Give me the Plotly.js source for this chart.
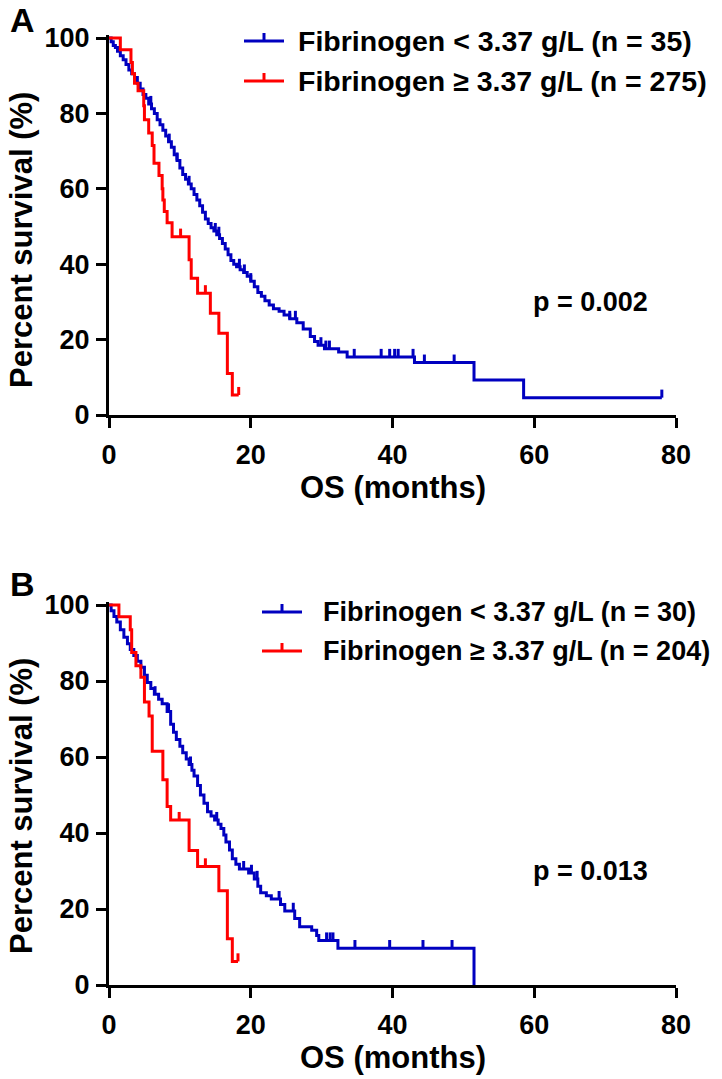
<!DOCTYPE html>
<html>
<head>
<meta charset="utf-8">
<script src="https://cdn.plot.ly/plotly-3.0.1.min.js"></script>
<style>html,body{margin:0;padding:0;background:#fff;}#chart{width:722px;height:1079px;}</style>
</head>
<body>
<div id="chart"></div>
<script>
// ---------- data ----------
const xTicks = [0, 20, 40, 60, 80];
const yTicks = [0, 20, 40, 60, 80, 100];

// Panel A, Fibrinogen < 3.37 g/L (blue)
const aBlueT = [0.3,0.6,0.9,1.2,1.6,2.0,2.4,2.8,3.2,3.6,4.0,4.4,4.8,5.2,5.6,6.0,6.4,6.8,7.2,7.6,8.0,8.4,8.8,9.2,9.6,10.0,10.4,10.8,11.2,11.6,12.0,12.4,12.8,13.2,13.6,14.0,14.4,14.8,15.2,15.6,16.0,16.4,16.8,17.2,17.6,18.0,18.5,19.0,19.5,20.0,20.5,21.0,21.5,22.0,22.6,23.2,24.0,24.7,25.5,26.5,27.4,28.4,29.0,29.5,30.4,32.4,33.6,43.1,51.5,58.5];
const aBlueS = [99,98,97.5,96.5,95.3,94.2,93.0,91.5,90.5,89.5,88,86.5,85,84,82.5,81.2,80,78.3,77,75.5,74,72.5,71,69,67.5,65.5,63.8,62.5,61.3,60,58.5,57,55.5,53.8,52,50.8,49.7,48.8,47.8,46.8,45.5,44,42.5,41,40,39.3,38.5,37.8,36.8,35.5,34,32.5,31.5,30.3,29.2,28.2,27.5,26.5,25.5,24.5,22.8,20.8,19.5,18.5,17.6,16.7,15.4,13.9,9.3,4.6];
const aBlueCens = [5.9,8.5,9.6,11.3,15.0,15.5,18.4,19.1,20.0,25.5,26.3,29.9,30.6,31.1,34.6,38.4,39.6,40.3,40.8,42.9,44.5,48.7,78.0];
const aBlueEnd = 78.0;
// Panel A, Fibrinogen >= 3.37 g/L (red)
const aRedT = [1.6,3.1,3.3,3.6,4.1,4.9,5.0,5.6,6.1,6.35,7.05,7.5,7.6,7.8,8.2,8.9,11.3,11.6,12.5,14.3,15.5,16.7,17.4];
const aRedS = [96.9,93.5,90.5,88,86,82,78.3,74.8,71.5,66.8,63.5,60,57,54,51,47.3,41.2,36.3,32.3,27,21.7,11,5.3];
const aRedCens = [10.1,13.6,18.3];
const aRedEnd = 18.3;

// Panel B, Fibrinogen < 3.37 g/L (blue)
const bBlueT = [0.3,0.7,1.1,1.6,2.1,2.6,3.0,3.5,4.0,4.5,5.0,5.4,5.9,6.4,7.0,7.5,8.2,8.7,9.1,9.5,10.0,10.4,10.9,11.3,11.7,12.0,12.5,12.9,13.4,13.9,14.4,14.9,15.4,15.8,16.2,16.5,17.0,17.4,17.9,18.4,19.7,20.5,21.0,21.4,22.2,22.9,24.2,24.8,26.2,26.9,28.6,29.3,29.6,32.3,51.5];
const bBlueS = [98.5,97,95.5,93.5,91.5,89.8,88.3,86.7,85.2,83.6,81.5,79.6,78,76.5,75.2,74,72,68.6,66.5,64.6,62.8,61.1,59.5,58,56.5,55,52.5,50,47.8,45.6,44.5,43.4,42.3,41.2,39.5,37.6,35.5,33.2,31.8,30.5,29.5,27.9,26,24.3,23.5,22.6,21.2,19.5,17.5,15.3,14.4,13.0,11.7,9.7,0];
const bBlueCens = [6.5,8.4,11.5,15.2,19.0,20.1,20.9,24.0,26.0,30.7,31.2,31.6,34.7,39.6,44.3,48.4];
const bBlueEnd = 51.5;
// Panel B, Fibrinogen >= 3.37 g/L (red)
const bRedT = [1.4,3.0,3.2,3.8,4.5,5.0,5.65,6.1,7.6,8.2,8.7,11.3,12.5,15.5,16.7,17.4];
const bRedS = [96.9,93.5,87.5,84,81,74.5,70.8,61.5,54,47,43.4,35.4,31.2,24.8,12.2,6.2];
const bRedCens = [9.9,13.6,18.2];
const bRedEnd = 18.2;

const legendA = ['Fibrinogen < 3.37 g/L (n = 35)', 'Fibrinogen \u2265 3.37 g/L (n = 275)'];
const legendB = ['Fibrinogen < 3.37 g/L (n = 30)', 'Fibrinogen \u2265 3.37 g/L (n = 204)'];
const pA = 'p = 0.002';
const pB = 'p = 0.013';
const xTitle = 'OS (months)';
const yTitle = 'Percent survival (%)';

// ---------- style ----------
const BLUE = '#0000c0';
const RED = '#ff0000';
const W = 722, H = 1079;
const FONT = 'Liberation Sans, Arial, Helvetica, sans-serif';
const LW = 3;
// plot-area pixel geometry
const X0 = 109, X1 = 676;
const A_TOP = 38, A_BOT = 415;
const B_TOP = 605, B_BOT = 985;
const YMAX = 100.8;  // small headroom so the 100% line is not clipped

function px(x) { return x / W; }
function py(y) { return 1 - y / H; }

function kmTrace(t, s, end, color, xa, ya) {
  return {
    type: 'scatter', mode: 'lines',
    x: [0].concat(t, [end]),
    y: [100].concat(s, [s[s.length - 1]]),
    line: { shape: 'hv', color: color, width: LW },
    xaxis: xa, yaxis: ya, hoverinfo: 'skip', showlegend: false
  };
}
function survAt(t, s, c) {
  let v = 100;
  for (let i = 0; i < t.length; i++) { if (t[i] <= c) v = s[i]; }
  return v;
}
function censTrace(cens, t, s, color, xa, ya, tickLen) {
  const x = [], y = [];
  cens.forEach(function (c) {
    const v = survAt(t, s, c);
    x.push(c, c, null); y.push(v, v + tickLen, null);
  });
  return {
    type: 'scatter', mode: 'lines', x: x, y: y,
    line: { color: color, width: LW },
    xaxis: xa, yaxis: ya, hoverinfo: 'skip', showlegend: false
  };
}
const tickLenData = 8 / ((A_BOT - A_TOP) / YMAX);

const traces = [
  kmTrace(aBlueT, aBlueS, aBlueEnd, BLUE, 'x', 'y'),
  censTrace(aBlueCens, aBlueT, aBlueS, BLUE, 'x', 'y', tickLenData),
  kmTrace(aRedT, aRedS, aRedEnd, RED, 'x', 'y'),
  censTrace(aRedCens, aRedT, aRedS, RED, 'x', 'y', tickLenData),
  kmTrace(bBlueT, bBlueS, bBlueEnd, BLUE, 'x2', 'y2'),
  censTrace(bBlueCens, bBlueT, bBlueS, BLUE, 'x2', 'y2', tickLenData),
  kmTrace(bRedT, bRedS, bRedEnd, RED, 'x2', 'y2'),
  censTrace(bRedCens, bRedT, bRedS, RED, 'x2', 'y2', tickLenData)
];

const tickFont = { family: FONT, size: 27, color: '#000', weight: 700 };
function xAxis(anchor) {
  return {
    domain: [px(X0), px(X1)], range: [0, 80], anchor: anchor,
    tickmode: 'array', tickvals: xTicks, ticktext: xTicks.map(String),
    ticks: 'outside', ticklen: 10, tickwidth: LW, tickcolor: '#000',
    showline: true, linewidth: LW, linecolor: '#000',
    showgrid: false, zeroline: false, tickfont: tickFont, ticklabelstandoff: 4,
    fixedrange: true
  };
}
function yAxis(anchor, top, bot) {
  const h = bot - top;
  const topPx = bot - h * YMAX / 100;
  return {
    domain: [py(bot), py(topPx)], range: [0, YMAX], anchor: anchor,
    tickmode: 'array', tickvals: yTicks, ticktext: yTicks.map(String),
    ticks: 'outside', ticklen: 10, tickwidth: LW, tickcolor: '#000',
    showline: true, linewidth: LW, linecolor: '#000',
    showgrid: false, zeroline: false, tickfont: tickFont, ticklabelstandoff: 1,
    fixedrange: true
  };
}

const annotations = [];
const shapes = [];
function addText(text, x, y, opts) {
  annotations.push(Object.assign({
    text: text, x: px(x), y: py(y), xref: 'paper', yref: 'paper',
    showarrow: false, xanchor: 'center', yanchor: 'middle'
  }, opts || {}));
}
function addLegend(labels, lineX0, rowsY, textX, fontSize) {
  const cols = [BLUE, RED];
  const f = { family: FONT, size: fontSize, color: '#000', weight: 700 };
  labels.forEach(function (lab, i) {
    const yy = rowsY[i];
    shapes.push({ type: 'line', xref: 'paper', yref: 'paper',
      x0: px(lineX0), x1: px(lineX0 + 40), y0: py(yy), y1: py(yy),
      line: { color: cols[i], width: LW } });
    shapes.push({ type: 'line', xref: 'paper', yref: 'paper',
      x0: px(lineX0 + 20), x1: px(lineX0 + 20), y0: py(yy), y1: py(yy - 8),
      line: { color: cols[i], width: LW } });
    addText(lab, textX, yy, { xanchor: 'left', font: f });
  });
}

// panel letters
const letterFont = { family: FONT, size: 34, color: '#000', weight: 700 };
addText('A', 22, 20, { font: letterFont });
addText('B', 22, 584, { font: letterFont });
// axis titles
const titleFont = { family: FONT, size: 31, color: '#000', weight: 700 };
addText(xTitle, (X0 + X1) / 2, 487, { font: titleFont });
addText(xTitle, (X0 + X1) / 2, 1057, { font: titleFont });
addText(yTitle, 21, 240, { font: titleFont, textangle: -90 });
addText(yTitle, 21, 806, { font: titleFont, textangle: -90 });
// legends
addLegend(legendA, 244, [41, 81], 296, 28.5);
addLegend(legendB, 262, [612, 651], 321, 27);
// p values
const pFont = { family: FONT, size: 27, color: '#000', weight: 700 };
addText(pA, 590, 302, { font: pFont });
addText(pB, 590, 871, { font: pFont });

const layout = {
  width: W, height: H,
  margin: { l: 0, r: 0, t: 0, b: 0, pad: 0 },
  paper_bgcolor: '#fff', plot_bgcolor: '#fff',
  showlegend: false,
  xaxis: xAxis('y'),
  yaxis: yAxis('x', A_TOP, A_BOT),
  xaxis2: xAxis('y2'),
  yaxis2: yAxis('x2', B_TOP, B_BOT),
  annotations: annotations,
  shapes: shapes
};

Plotly.newPlot('chart', traces, layout, { staticPlot: true, displayModeBar: false });
</script>
</body>
</html>
